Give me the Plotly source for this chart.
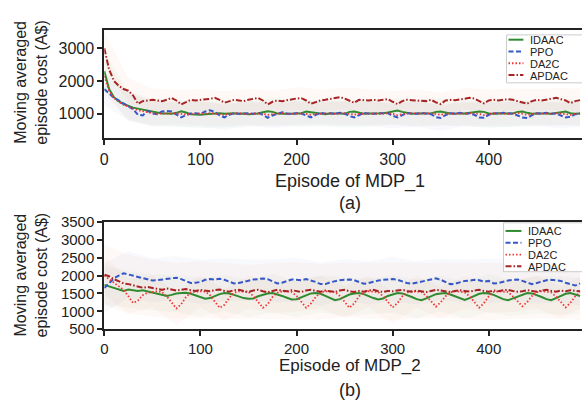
import plotly.graph_objects as go

# episodes sampled every 5 steps for the lines, every 25 for the shaded bands
episodes = list(range(0, 500, 5))
band_episodes = [0, 25, 50, 75, 100, 125, 150, 175, 200, 225, 250,
                 275, 300, 325, 350, 375, 400, 425, 450, 475, 495]

algos = ["IDAAC", "PPO", "DA2C", "APDAC"]

# ---- MDP_1 moving averaged cost ----
mdp1_idaac = [2300, 1750, 1500, 1380, 1290, 1230, 1180, 1150, 1120, 1080,
              1040, 1010, 1000, 1000, 990, 1020, 1070, 1030, 980, 970,
              960, 980, 990, 1000, 1010, 990, 1000, 1010, 990, 1000,
              980, 990, 1000, 1040, 1070, 1050, 1000, 990, 980, 990,
              1000, 1010, 1060, 1040, 1000, 990, 980, 1000, 1010, 1000,
              990, 1050, 1060, 1020, 990, 1000, 1000, 990, 1010, 1030,
              1070, 1090, 1050, 1010, 990, 1000, 1010, 1000, 1000, 1050,
              1060, 1020, 1000, 990, 1010, 1000, 1020, 1040, 1060, 1050,
              1000, 990, 1010, 1000, 990, 1000, 1050, 1060, 1020, 990,
              1000, 1010, 1000, 990, 1010, 1050, 1060, 1010, 990, 1000]
mdp1_ppo = [1750, 1600, 1480, 1400, 1300, 1220, 1130, 960, 940, 1080,
            1000, 980, 1060, 1080, 1060, 960, 880, 950, 1000, 1010,
            990, 1060, 1100, 1050, 940, 880, 960, 1010, 990, 1000,
            1010, 990, 1020, 960, 870, 940, 1000, 1040, 1000, 980,
            1010, 1000, 940, 880, 960, 1020, 1000, 1010, 990, 1020,
            1000, 920, 880, 960, 1020, 1000, 990, 1010, 1000, 1010,
            930, 880, 950, 1010, 1000, 990, 1020, 1000, 980, 890,
            860, 950, 1010, 1000, 1020, 990, 1000, 960, 880, 870,
            960, 1010, 1000, 1020, 1000, 990, 940, 880, 860, 950,
            1010, 1000, 1020, 990, 1000, 930, 880, 900, 980, 1000]
mdp1_da2c = [2150, 1700, 1480, 1360, 1270, 1200, 1150, 1100, 1060, 1040,
             1010, 990, 1000, 990, 1000, 1010, 990, 970, 990, 1000,
             1000, 990, 1010, 1000, 990, 960, 990, 1000, 1010, 990,
             1000, 1010, 1000, 990, 960, 980, 1000, 1010, 990, 1000,
             1010, 1000, 990, 960, 990, 1000, 1010, 1000, 990, 1000,
             1010, 990, 960, 990, 1000, 1010, 1000, 990, 1000, 1010,
             990, 950, 980, 1000, 1010, 1000, 990, 1000, 1010, 990,
             960, 990, 1000, 1010, 1000, 990, 1010, 1000, 990, 950,
             990, 1000, 1010, 1000, 990, 1000, 1010, 990, 960, 990,
             1000, 1010, 1000, 990, 1010, 1000, 990, 960, 990, 1000]
mdp1_apdac = [3000, 2350, 2000, 1850, 1750, 1700, 1550, 1300, 1380, 1400,
              1420, 1400, 1380, 1420, 1480, 1400, 1280, 1350, 1420, 1400,
              1410, 1420, 1450, 1480, 1420, 1330, 1380, 1420, 1400, 1380,
              1420, 1450, 1480, 1400, 1280, 1360, 1400, 1380, 1410, 1440,
              1460, 1470, 1400, 1300, 1360, 1400, 1420, 1440, 1460, 1500,
              1460, 1400, 1330, 1420, 1410, 1400, 1420, 1400, 1420, 1440,
              1360, 1290, 1380, 1420, 1410, 1400, 1390, 1380, 1420, 1340,
              1290, 1400, 1420, 1410, 1430, 1450, 1480, 1460, 1380, 1310,
              1400, 1420, 1400, 1430, 1440, 1420, 1380, 1340, 1300, 1380,
              1420, 1400, 1430, 1460, 1480, 1440, 1400, 1320, 1380, 1410]

mdp1_std_idaac = [600, 450, 420, 400, 420, 410, 400, 420, 410, 400, 420,
                  410, 400, 420, 410, 400, 420, 410, 400, 420, 410]
mdp1_std_ppo = [500, 430, 400, 380, 400, 390, 380, 400, 390, 380, 400,
                390, 380, 400, 390, 380, 400, 390, 380, 400, 390]
mdp1_std_da2c = [550, 400, 360, 350, 360, 350, 340, 360, 350, 340, 360,
                 350, 340, 360, 350, 340, 360, 350, 340, 360, 350]
mdp1_std_apdac = [500, 380, 350, 330, 340, 350, 330, 340, 350, 330, 340,
                  350, 330, 340, 350, 330, 340, 350, 330, 340, 350]

# ---- MDP_2 moving averaged cost ----
mdp2_idaac = [1740, 1700, 1640, 1600, 1570, 1610, 1600, 1570, 1590, 1560,
              1520, 1480, 1450, 1430, 1460, 1500, 1510, 1520, 1490, 1440,
              1390, 1350, 1370, 1430, 1480, 1510, 1500, 1460, 1410, 1370,
              1350, 1360, 1420, 1470, 1500, 1510, 1480, 1430, 1380, 1330,
              1340, 1400, 1460, 1500, 1510, 1490, 1430, 1370, 1310, 1340,
              1410, 1470, 1500, 1510, 1480, 1420, 1370, 1330, 1360, 1430,
              1480, 1510, 1500, 1460, 1400, 1340, 1310, 1360, 1430, 1480,
              1500, 1510, 1470, 1420, 1360, 1320, 1370, 1440, 1490, 1510,
              1500, 1460, 1400, 1340, 1310, 1360, 1430, 1480, 1510, 1500,
              1460, 1400, 1340, 1310, 1370, 1440, 1490, 1510, 1480, 1430]
mdp2_ppo = [1650, 1800, 1920, 2000, 2060, 2030, 2000, 1970, 1920, 1890,
            1860, 1870, 1890, 1910, 1920, 1940, 1900, 1850, 1790, 1800,
            1820, 1880, 1900, 1890, 1910, 1880, 1840, 1780, 1790, 1830,
            1870, 1890, 1900, 1920, 1900, 1850, 1780, 1800, 1850, 1890,
            1880, 1870, 1900, 1870, 1820, 1760, 1760, 1810, 1850, 1870,
            1880, 1890, 1870, 1830, 1770, 1790, 1830, 1860, 1880, 1890,
            1900, 1880, 1830, 1790, 1770, 1800, 1850, 1880, 1900, 1920,
            1880, 1820, 1760, 1770, 1810, 1850, 1860, 1880, 1870, 1830,
            1850, 1780, 1790, 1830, 1860, 1880, 1890, 1850, 1800, 1760,
            1790, 1840, 1870, 1880, 1860, 1850, 1800, 1760, 1720, 1780]
mdp2_da2c = [2000, 1900, 1800, 1700, 1600, 1420, 1230, 1300, 1450, 1520,
             1550, 1560, 1540, 1420, 1250, 1080, 1200, 1400, 1530, 1550,
             1560, 1550, 1450, 1270, 1100, 1180, 1380, 1520, 1560, 1550,
             1540, 1430, 1250, 1100, 1200, 1400, 1520, 1560, 1550, 1540,
             1430, 1250, 1100, 1220, 1400, 1530, 1560, 1550, 1540, 1430,
             1260, 1100, 1220, 1420, 1530, 1560, 1550, 1540, 1420, 1250,
             1110, 1230, 1420, 1530, 1560, 1550, 1540, 1430, 1280, 1130,
             1250, 1420, 1530, 1560, 1550, 1530, 1420, 1250, 1100, 1230,
             1420, 1540, 1560, 1550, 1540, 1420, 1270, 1140, 1260, 1430,
             1540, 1560, 1550, 1530, 1410, 1250, 1110, 1240, 1420, 1530]
mdp2_apdac = [2020, 1980, 1900, 1850, 1780, 1760, 1720, 1690, 1660, 1680,
              1650, 1620, 1600, 1640, 1610, 1580, 1600, 1620, 1590, 1570,
              1600, 1580, 1560, 1590, 1610, 1570, 1550, 1590, 1600, 1570,
              1540, 1580, 1600, 1560, 1530, 1570, 1600, 1580, 1560, 1590,
              1570, 1540, 1580, 1600, 1570, 1550, 1580, 1560, 1540, 1580,
              1600, 1560, 1540, 1570, 1550, 1580, 1600, 1560, 1540, 1570,
              1560, 1580, 1600, 1570, 1550, 1580, 1560, 1540, 1570, 1600,
              1580, 1560, 1540, 1570, 1590, 1570, 1550, 1580, 1600, 1570,
              1550, 1580, 1560, 1590, 1600, 1570, 1550, 1560, 1590, 1570,
              1550, 1580, 1600, 1570, 1550, 1580, 1560, 1590, 1570, 1560]

mdp2_std_idaac = [550, 520, 500, 520, 540, 500, 520, 540, 500, 520, 540,
                  500, 520, 540, 500, 520, 540, 500, 520, 540, 500]
mdp2_std_ppo = [700, 650, 620, 600, 620, 600, 580, 600, 620, 600, 580,
                600, 620, 600, 580, 600, 620, 600, 580, 600, 620]
mdp2_std_da2c = [550, 480, 450, 460, 450, 440, 460, 450, 440, 460, 450,
                 440, 460, 450, 440, 460, 450, 440, 460, 450, 440]
mdp2_std_apdac = [850, 820, 800, 780, 800, 780, 760, 780, 800, 780, 760,
                  780, 800, 780, 760, 780, 800, 780, 760, 780, 800]

colors = {"IDAAC": "#2e8b2e", "PPO": "#3558c8", "DA2C": "#f03535", "APDAC": "#a82424"}
band_colors = {"IDAAC": "rgba(46,139,46,0.035)", "PPO": "rgba(53,88,200,0.035)",
               "DA2C": "rgba(240,80,53,0.035)", "APDAC": "rgba(235,130,70,0.05)"}
dashes = {"IDAAC": "solid", "PPO": "5px,2.5px", "DA2C": "1.5px,2px", "APDAC": "6px,2px,1.5px,2px"}
widths = {"IDAAC": 2, "PPO": 2, "DA2C": 1.8, "APDAC": 2}

panels = [
    ("x", "y", [mdp1_idaac, mdp1_ppo, mdp1_da2c, mdp1_apdac],
     [mdp1_std_idaac, mdp1_std_ppo, mdp1_std_da2c, mdp1_std_apdac]),
    ("x2", "y2", [mdp2_idaac, mdp2_ppo, mdp2_da2c, mdp2_apdac],
     [mdp2_std_idaac, mdp2_std_ppo, mdp2_std_da2c, mdp2_std_apdac]),
]

W, H = 582, 412
FONT = "Arial, Liberation Sans, sans-serif"
INK = "#222222"


def px_x(p):
    return p / W


def px_y(p):
    return 1 - p / H


fig = go.Figure()

# shaded bands first so the lines sit on top
for xa, ya, series, stds in panels:
    for name, vals, std in zip(algos, series, stds):
        mean = [vals[e // 5] for e in band_episodes]
        upper = [m + s for m, s in zip(mean, std)]
        lower = [m - s for m, s in zip(mean, std)]
        fig.add_trace(go.Scatter(
            x=band_episodes + band_episodes[::-1],
            y=upper + lower[::-1],
            fill="toself", fillcolor=band_colors[name],
            line=dict(width=0), hoverinfo="skip", showlegend=False,
            xaxis=xa, yaxis=ya))

for xa, ya, series, stds in panels:
    for name, vals in zip(algos, series):
        fig.add_trace(go.Scatter(
            x=episodes, y=vals, mode="lines", name=name, showlegend=False,
            line=dict(color=colors[name], width=widths[name], dash=dashes[name]),
            xaxis=xa, yaxis=ya))

axis_common = dict(showline=True, linecolor=INK, linewidth=2, ticks="outside",
                   ticklen=5, tickwidth=2, tickcolor=INK, showgrid=False,
                   zeroline=False)

fig.update_layout(
    width=W, height=H, margin=dict(l=0, r=0, t=0, b=0),
    plot_bgcolor="white", paper_bgcolor="white",
    xaxis=dict(domain=[px_x(101), 1], anchor="y", range=[0, 497],
               tickvals=[0, 100, 200, 300, 400], mirror=True,
               tickfont=dict(family=FONT, size=16, color=INK), **axis_common),
    yaxis=dict(domain=[px_y(135), px_y(22)], anchor="x", range=[235, 3560],
               tickvals=[1000, 2000, 3000],
               tickfont=dict(family=FONT, size=16, color=INK), **axis_common),
    xaxis2=dict(domain=[px_x(101), 1], anchor="y2", range=[0, 497],
                tickvals=[0, 100, 200, 300, 400], mirror=True,
                tickfont=dict(family=FONT, size=15, color=INK), **axis_common),
    yaxis2=dict(domain=[px_y(334), px_y(222)], anchor="x2", range=[500, 3500],
                tickvals=[500, 1000, 1500, 2000, 2500, 3000, 3500],
                tickfont=dict(family=FONT, size=15, color=INK), **axis_common),
)

# axis titles and panel captions
labels = [
    ("Moving averaged<br>episode cost (A$)", 27, 76, 16, -90),
    ("Moving averaged<br>episode cost (A$)", 27, 277, 16, -90),
    ("Episode of MDP_1", 348, 180, 18, 0),
    ("(a)", 348, 202, 18, 0),
    ("Episode of MDP_2", 348, 372, 17, 0),
    ("(b)", 348, 397, 18, 0),
]
for text, x, y, size, angle in labels:
    fig.add_annotation(text=text, x=px_x(x), y=px_y(y), xref="paper", yref="paper",
                       showarrow=False, textangle=angle, xanchor="center", yanchor="middle",
                       font=dict(family=FONT, size=size, color=INK))

# legends (one per panel), drawn as a small keyed box in the upper right
legend_boxes = [
    (506, 27, 77, [32, 44.3, 56.6, 68.9], 508, 523, 528),
    (503, 223, 274, [231.5, 243.8, 256.1, 268.4], 505, 521, 526),
]
for bx, top, bottom, rows, lx0, lx1, tx in legend_boxes:
    fig.add_shape(type="rect", xref="paper", yref="paper",
                  x0=px_x(bx), x1=1.01, y0=px_y(bottom), y1=px_y(top),
                  line=dict(color="#cccccc", width=1), fillcolor="rgba(255,255,255,0.85)")
    for name, ry in zip(algos, rows):
        fig.add_shape(type="line", xref="paper", yref="paper",
                      x0=px_x(lx0), x1=px_x(lx1), y0=px_y(ry), y1=px_y(ry),
                      line=dict(color=colors[name], width=widths[name], dash=dashes[name]))
        fig.add_annotation(text=name, x=px_x(tx), y=px_y(ry), xref="paper", yref="paper",
                           showarrow=False, xanchor="left", yanchor="middle", height=11,
                           font=dict(family=FONT, size=11, color=INK))

# drop the default 8px body margin so the figure fills the window exactly
fig.write_html("out.html", config={"displayModeBar": False},
               post_script="document.body.style.margin='0';"
                           "document.body.style.overflow='hidden';")
